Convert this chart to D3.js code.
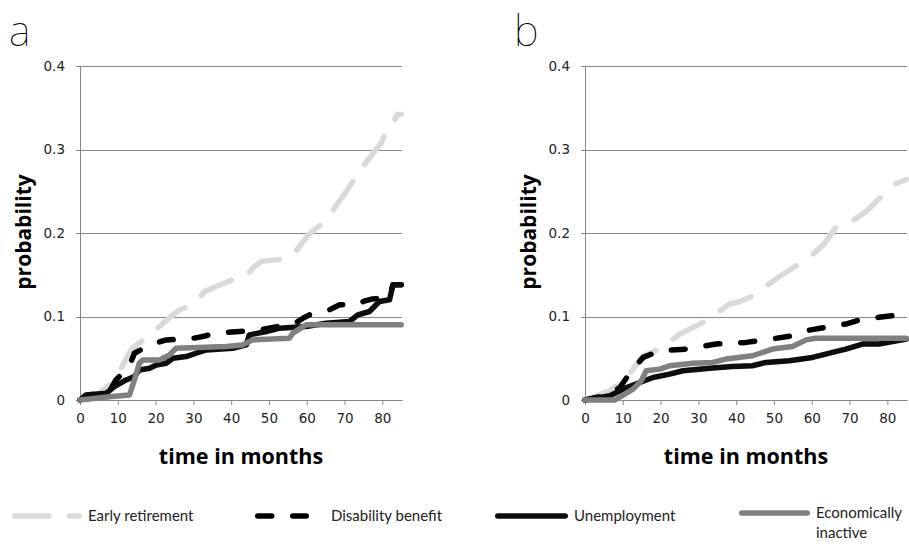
<!DOCTYPE html>
<meta charset="utf-8">
<style>
body { margin: 0; background: #fff; }
svg { display: block; }
.axis .tick text, .tick-lab { font-family: "DejaVu Sans", sans-serif; font-size: 13.5px; fill: #222; }
.axis .domain, .axis .tick line { stroke: #878787; }
.grid line { stroke: #878787; stroke-width: 1; }
.ttl { font-family: "Open Sans", sans-serif; font-weight: 700; fill: #000; }
.panel-lab { font-family: "Noto Sans", "Open Sans", sans-serif; font-weight: 100; font-size: 42px; fill: #000; }
.leg text { font-family: "Lato", sans-serif; font-size: 15px; fill: #222; }
</style>
<body>
<script src="https://cdnjs.cloudflare.com/ajax/libs/d3/7.8.5/d3.min.js"></script>
<script>

// ticks
var xTicks = [0, 10, 20, 30, 40, 50, 60, 70, 80];
var yTicks = [0, 0.1, 0.2, 0.3, 0.4];

var seriesNames = ["Early retirement", "Disability benefit", "Unemployment", "Economically inactive"];

// panel a  [month, probability]
var earlyA = [[0,0],[4,0.005],[7.3,0.016],[9.5,0.026],[11.5,0.043],[13.5,0.06],[15.5,0.068],[17.5,0.074],[19.5,0.082],[21.5,0.09],[24,0.1],[26.3,0.108],[29.8,0.114],[31,0.12],[33,0.13],[36,0.136],[40.4,0.144],[42,0.146],[44,0.148],[45.7,0.158],[48,0.166],[54,0.169],[56,0.172],[58.5,0.186],[60.5,0.198],[62,0.204],[64.7,0.213],[67.8,0.233],[70.5,0.25],[73.4,0.27],[75,0.28],[76.6,0.29],[78.7,0.302],[80,0.31],[81,0.323],[82.5,0.33],[84,0.342],[85,0.342]];
var disabA = [[0,0],[2,0.006],[6.5,0.008],[8,0.012],[9.5,0.024],[11.7,0.034],[13,0.04],[14.4,0.056],[16,0.06],[17.5,0.064],[20,0.068],[22.8,0.072],[27.2,0.073],[30,0.074],[32.5,0.076],[36,0.08],[42.2,0.082],[47.5,0.084],[50,0.086],[54.5,0.09],[57,0.092],[59,0.098],[60.7,0.102],[63.8,0.106],[66,0.108],[68.7,0.114],[73,0.114],[75,0.118],[77.4,0.121],[80,0.122],[82,0.124],[82.8,0.138],[85,0.138]];
var unempA = [[0,0],[1.6,0.006],[6.9,0.008],[9.1,0.016],[12.2,0.024],[14.4,0.028],[15.7,0.036],[18.4,0.038],[20.2,0.042],[22.8,0.044],[24.6,0.05],[28.1,0.052],[30.7,0.056],[33.4,0.06],[40.4,0.062],[44,0.066],[44.8,0.078],[49.3,0.082],[52.8,0.086],[59.8,0.088],[65.1,0.092],[71.3,0.094],[73.5,0.102],[76.6,0.106],[79.2,0.118],[81.9,0.12],[82.8,0.138],[85,0.138]];
var inactA = [[0,0],[7.8,0.004],[13.1,0.006],[14.4,0.024],[15.7,0.044],[16.6,0.048],[21,0.048],[23.7,0.054],[25.4,0.062],[38.7,0.064],[43,0.066],[45.7,0.072],[55.4,0.074],[56.3,0.08],[59.8,0.09],[85,0.09]];

// panel b
var earlyB = [[0,0],[6.6,0.011],[9.2,0.02],[11.9,0.032],[15.4,0.053],[19.8,0.061],[25.1,0.079],[31.2,0.093],[33.9,0.101],[38.3,0.115],[41,0.118],[44.5,0.125],[46.2,0.131],[51.2,0.147],[56.7,0.163],[58.5,0.167],[63.3,0.187],[66.4,0.207],[70.3,0.213],[74.7,0.227],[78.7,0.245],[82.2,0.259],[85,0.264]];
var disabB = [[0,0],[6,0.006],[9.2,0.015],[12.3,0.035],[15.4,0.051],[19.8,0.059],[26.8,0.061],[34.7,0.067],[42.6,0.069],[47.9,0.072],[54.9,0.077],[58.5,0.083],[63.7,0.087],[69,0.091],[73.4,0.097],[77.8,0.099],[85,0.103]];
var unempB = [[0,0],[6.6,0.005],[11,0.015],[14.5,0.021],[18,0.027],[22.4,0.031],[25.9,0.035],[33,0.038],[39,0.04],[44.3,0.041],[47.9,0.045],[54,0.047],[60.2,0.051],[65.5,0.057],[69,0.061],[73.4,0.067],[77.8,0.067],[85,0.073]];
var inactB = [[0,0],[8,0],[12.7,0.013],[14.9,0.023],[16.2,0.035],[19.8,0.037],[22.4,0.041],[28.5,0.044],[33.8,0.045],[37.3,0.049],[44.3,0.053],[49.6,0.061],[54.9,0.064],[58.5,0.072],[61,0.074],[85,0.074]];

// line looks per series
var styles = [
  {color: "#d9d9d9", dash: "34,21"},
  {color: "#000000", dash: "14,21"},
  {color: "#0d0d0d", dash: null},
  {color: "#808080", dash: null}
];
var lw = 5.5;

var W = 909, H = 546;
var svg = d3.select("body").append("svg").attr("width", W).attr("height", H);

function drawPanel(left, label, data) {
  var x = d3.scaleLinear().domain([0, 85.2]).range([left, left + 322]);
  var y = d3.scaleLinear().domain([0, 0.4]).range([400, 66]);
  var g = svg.append("g");

  // gridlines with small outer tick
  g.append("g").attr("class", "grid")
    .selectAll("line").data(yTicks).enter().append("line")
      .attr("x1", left - 4).attr("x2", x.range()[1])
      .attr("y1", function(d) { return Math.round(y(d)) + 0.5; })
      .attr("y2", function(d) { return Math.round(y(d)) + 0.5; });

  g.append("line")
    .attr("x1", left + 0.5).attr("x2", left + 0.5)
    .attr("y1", y(0.4)).attr("y2", y(0) + 0.5)
    .attr("stroke", "#878787");

  g.append("g")
    .selectAll("text").data(yTicks).enter().append("text")
      .attr("class", "tick-lab")
      .attr("x", left - 15).attr("y", function(d) { return y(d); })
      .attr("dy", "0.36em").attr("text-anchor", "end")
      .text(function(d) { return d === 0 ? "0" : d3.format(".1f")(d); });

  var xa = g.append("g").attr("class", "axis")
    .attr("transform", "translate(0," + Math.round(y(0)) + ")")
    .call(d3.axisBottom(x).tickValues(xTicks).tickSize(5).tickSizeOuter(0).tickPadding(8));
  xa.select(".domain").attr("stroke", "#878787");

  var line = d3.line().x(function(d) { return x(d[0]); }).y(function(d) { return y(d[1]); });
  data.forEach(function(s, i) {
    g.append("path").datum(s)
      .attr("d", line)
      .attr("fill", "none")
      .attr("stroke", styles[i].color)
      .attr("stroke-width", lw)
      .attr("stroke-linecap", "round")
      .attr("stroke-linejoin", "round")
      .attr("stroke-dasharray", styles[i].dash);
  });

  g.append("text").attr("class", "ttl")
    .attr("transform", "translate(" + (left - 49) + ",232) rotate(-90)")
    .attr("text-anchor", "middle").style("font-size", "21px")
    .text("probability");

  g.append("text").attr("class", "ttl")
    .attr("x", left + 161).attr("y", 464)
    .attr("text-anchor", "middle").style("font-size", "21.5px")
    .text("time in months");

  g.append("text").attr("class", "panel-lab")
    .attr("x", left - 71).attr("y", 46)
    .text(label);
}

drawPanel(80, "a", [earlyA, disabA, unempA, inactA]);
drawPanel(585, "b", [earlyB, disabB, unempB, inactB]);

// legend
var legX = [12, 255, 495, 739];
var legLen = [70, 54, 73, 71];
var legY = [516, 516, 516, 513];
var leg = svg.append("g").attr("class", "leg");
seriesNames.forEach(function(n, i) {
  leg.append("line")
    .attr("x1", legX[i] + lw / 2).attr("x2", legX[i] + legLen[i] - lw / 2)
    .attr("y1", legY[i]).attr("y2", legY[i])
    .attr("stroke", styles[i].color).attr("stroke-width", lw)
    .attr("stroke-linecap", "round")
    .attr("stroke-dasharray", styles[i].dash);
  var t = leg.append("text").attr("x", legX[i] + legLen[i] + (i === 1 ? 22 : 6)).attr("y", legY[i]).attr("dy", "0.35em");
  if (i === 3) {
    t.append("tspan").text("Economically");
    t.append("tspan").attr("x", legX[i] + legLen[i] + 6).attr("dy", 20).text("inactive");
  } else {
    t.text(n);
  }
});

</script>
</body>
